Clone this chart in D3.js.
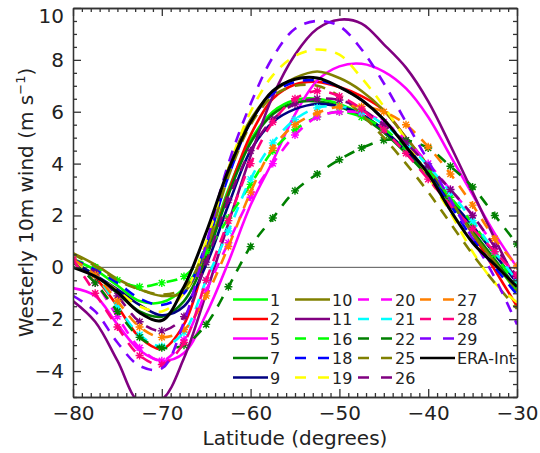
<!DOCTYPE html>
<html>
<head>
<meta charset="utf-8">
<script src="https://cdn.jsdelivr.net/npm/d3@7"></script>
<style>
  body { margin: 0; background: #fff; }
  text { font-family: "DejaVu Sans", sans-serif; fill: #222; }
</style>
</head>
<body>
<svg id="chart" width="540" height="453"></svg>
<script>
// latitude grid (degrees)
var lats = [-80, -77.5, -75, -72.5, -70, -67.5, -65, -62.5, -60, -57.5, -55,
            -52.5, -50, -47.5, -45, -42.5, -40, -37.5, -35, -32.5, -30];

// westerly 10m wind (m/s), one list per run
var run1  = [0.3, -0.1, -0.7, -1.3, -1.35, -0.8, 0.6, 3.0, 4.9, 6.0, 6.45, 6.5, 6.3, 5.9, 5.3, 4.5, 3.6, 2.5, 1.4, 0.2, -0.95];
var run2  = [0.2, -0.4, -1.5, -2.7, -3.15, -2.2, 0.35, 2.9, 5.1, 6.5, 7.05, 7.15, 6.95, 6.6, 6.05, 5.0, 3.9, 2.6, 1.3, -0.1, -1.5];
var run5  = [-0.8, -1.1, -2.2, -3.2, -3.6, -3.3, -1.8, 0.2, 2.4, 4.1, 5.9, 7.2, 7.75, 7.85, 7.55, 6.9, 5.8, 4.3, 2.8, 1.3, 0.0];
var run7  = [0.2, -0.3, -1.0, -1.7, -1.9, -1.3, 0.4, 2.8, 4.8, 5.9, 6.35, 6.4, 6.2, 5.8, 5.2, 4.4, 3.5, 2.5, 1.4, 0.3, -0.8];
var run9  = [0.2, -0.3, -0.85, -1.45, -1.85, -1.5, 0.1, 2.4, 4.5, 5.6, 6.1, 6.3, 6.2, 5.9, 5.3, 4.5, 3.7, 2.6, 1.6, 0.5, -0.6];
var run10 = [0.55, 0.1, -0.45, -0.85, -1.1, -0.95, 0.7, 3.8, 5.7, 6.75, 7.3, 7.55, 7.3, 6.8, 6.05, 5.0, 3.9, 2.6, 1.3, 0.2, -0.9];
var run11 = [-1.3, -2.1, -3.6, -5.2, -5.1, -3.5, -1.0, 1.7, 4.3, 6.6, 8.2, 9.2, 9.55, 9.4, 8.6, 7.7, 6.4, 4.7, 2.9, 1.1, -0.6];
var run16 = [0.3, 0.0, -0.5, -0.75, -0.6, -0.35, 0.6, 1.9, 3.2, 4.5, 5.3, 5.8, 6.0, 5.8, 5.35, 4.6, 3.7, 2.7, 1.7, 0.5, -0.7];
var run18 = [0.3, -0.1, -0.6, -1.2, -1.45, -1.0, 0.9, 3.5, 5.6, 6.7, 7.15, 7.2, 6.95, 6.45, 5.7, 4.7, 3.6, 2.4, 1.1, 0.0, -1.05];
var run19 = [0.2, -0.3, -0.9, -1.5, -1.7, -1.0, 1.0, 3.8, 6.0, 7.4, 8.15, 8.4, 8.2, 7.3, 6.2, 4.9, 3.5, 2.1, 0.6, -0.6, -1.35];
var run20 = [0.2, -0.6, -1.9, -3.1, -3.6, -2.8, -0.9, 0.95, 2.7, 4.0, 5.1, 5.8, 6.0, 5.95, 5.6, 4.9, 4.0, 3.0, 2.0, 0.8, -0.4];
var run21 = [0.3, -0.3, -1.5, -2.6, -3.05, -2.5, -0.5, 1.4, 3.4, 4.8, 5.7, 6.15, 6.2, 6.0, 5.5, 4.8, 3.9, 2.9, 1.8, 0.6, -0.5];
var run22 = [0.2, -0.6, -1.7, -2.7, -3.1, -3.0, -2.2, -0.75, 0.8, 1.9, 2.95, 3.6, 4.15, 4.6, 4.9, 4.9, 4.6, 3.9, 3.1, 2.0, 0.9];
var run25 = [0.5, 0.05, -0.5, -0.85, -1.05, -0.8, 0.8, 3.5, 5.5, 6.6, 7.0, 7.0, 6.6, 5.9, 5.0, 4.0, 2.9, 1.7, 0.5, -0.6, -1.6];
var run26 = [0.3, -0.2, -1.1, -2.1, -2.45, -1.9, 0.2, 2.6, 4.5, 5.7, 6.3, 6.5, 6.45, 6.1, 5.5, 4.8, 3.9, 3.0, 2.0, 0.8, -0.35];
var run27 = [0.3, -0.3, -1.3, -2.3, -2.7, -2.4, -1.1, 0.8, 2.9, 4.6, 5.5, 5.95, 6.2, 6.2, 6.0, 5.5, 4.65, 3.6, 2.4, 1.1, 0.05];
var run28 = [0.3, -1.0, -2.3, -3.4, -3.75, -2.9, -0.5, 1.8, 4.0, 5.6, 6.5, 6.8, 6.6, 6.1, 5.3, 4.4, 3.4, 2.4, 1.5, 0.6, -0.3];
var run29 = [-1.1, -1.7, -2.9, -3.8, -3.9, -2.1, 0.9, 4.0, 6.3, 8.1, 9.2, 9.5, 9.3, 8.4, 7.1, 5.6, 4.1, 2.6, 1.1, -0.4, -2.2];
var eraInt = [0.0, -0.35, -0.95, -1.75, -2.05, -0.75, 1.35, 3.75, 5.6, 6.8, 7.25, 7.3, 6.95, 6.45, 5.7, 4.65, 3.6, 2.2, 0.95, 0.1, -0.75];

var xTicks = [-80, -70, -60, -50, -40, -30];
var yTicks = [-4, -2, 0, 2, 4, 6, 8, 10];

var runs = [
  { name: "1",  values: run1,  color: "#00ff00", dash: false, mark: false },
  { name: "2",  values: run2,  color: "#ff0000", dash: false, mark: false },
  { name: "5",  values: run5,  color: "#ff00ff", dash: false, mark: false },
  { name: "7",  values: run7,  color: "#008000", dash: false, mark: false },
  { name: "9",  values: run9,  color: "#000080", dash: false, mark: false },
  { name: "10", values: run10, color: "#808000", dash: false, mark: false },
  { name: "11", values: run11, color: "#800080", dash: false, mark: false },
  { name: "16", values: run16, color: "#00ff00", dash: true,  mark: true },
  { name: "18", values: run18, color: "#0000ff", dash: true,  mark: false },
  { name: "19", values: run19, color: "#ffff00", dash: true,  mark: false },
  { name: "20", values: run20, color: "#ff00ff", dash: true,  mark: true },
  { name: "21", values: run21, color: "#00ffff", dash: true,  mark: true },
  { name: "22", values: run22, color: "#008000", dash: true,  mark: true },
  { name: "25", values: run25, color: "#808000", dash: true,  mark: false },
  { name: "26", values: run26, color: "#800080", dash: true,  mark: true },
  { name: "27", values: run27, color: "#ff8000", dash: true,  mark: true },
  { name: "28", values: run28, color: "#ff0080", dash: true,  mark: true },
  { name: "29", values: run29, color: "#8000ff", dash: true,  mark: false },
  { name: "ERA-Int", values: eraInt, color: "#000000", dash: false, mark: false }
];

var svg = d3.select("#chart"),
    pLeft = 73, pRight = 517, pTop = 8, pBottom = 397;

var x = d3.scaleLinear().domain([-80, -30]).range([pLeft, pRight]),
    y = d3.scaleLinear().domain([-5, 10]).range([pBottom, pTop]);

svg.append("rect").attr("width", 540).attr("height", 453).attr("fill", "#fff");

svg.append("clipPath").attr("id", "plotclip")
   .append("rect").attr("x", pLeft).attr("y", pTop)
   .attr("width", pRight - pLeft).attr("height", pBottom - pTop);

// zero line
svg.append("line")
   .attr("x1", x(-80)).attr("x2", x(-30))
   .attr("y1", y(0)).attr("y2", y(0))
   .attr("stroke", "#555").attr("stroke-width", 1);

var plot = svg.append("g").attr("clip-path", "url(#plotclip)");

var line = d3.line()
    .x(function (d, i) { return x(lats[i]); })
    .y(function (d) { return y(d); })
    .curve(d3.curveCatmullRom.alpha(0.5));

runs.forEach(function (r) {
  plot.append("path")
      .attr("d", line(r.values))
      .attr("fill", "none")
      .attr("stroke", r.color)
      .attr("stroke-width", r.name == "ERA-Int" ? 3 : 2.6)
      .attr("stroke-dasharray", r.dash ? "11,9" : null);

  if (r.mark) {
    plot.selectAll(null).data(r.values).enter()
        .append("path")
        .attr("transform", function (d, i) { return "translate(" + x(lats[i]) + "," + y(d) + ")"; })
        .attr("d", "M-4,0H4M0,-4V4M-3,-3L3,3M-3,3L3,-3")
        .attr("stroke", r.color)
        .attr("stroke-width", 1.4);
  }
});

// axes (ticks point inward)
var minorX = d3.range(-80, -29, 1).filter(function (v) { return v % 10 !== 0; }),
    minorY = d3.range(-5, 10.01, 0.5).filter(function (v) { return v % 2 !== 0; });

function styleAxis(g) {
  g.selectAll("path, line").attr("stroke", "#333").attr("stroke-width", 1.3);
  g.selectAll("text").attr("font-size", 20).attr("font-family", "DejaVu Sans").attr("fill", "#222");
}

svg.append("g").attr("transform", "translate(0," + pBottom + ")")
   .call(d3.axisBottom(x).tickValues(xTicks).tickSizeInner(-8).tickSizeOuter(0).tickPadding(9))
   .call(styleAxis);
svg.append("g").attr("transform", "translate(0," + pBottom + ")")
   .call(d3.axisBottom(x).tickValues(minorX).tickSizeInner(-4).tickSizeOuter(0).tickFormat(""))
   .call(styleAxis);
svg.append("g").attr("transform", "translate(0," + pTop + ")")
   .call(d3.axisTop(x).tickValues(xTicks).tickSizeInner(-8).tickSizeOuter(0).tickFormat(""))
   .call(styleAxis);
svg.append("g").attr("transform", "translate(0," + pTop + ")")
   .call(d3.axisTop(x).tickValues(minorX).tickSizeInner(-4).tickSizeOuter(0).tickFormat(""))
   .call(styleAxis);

svg.append("g").attr("transform", "translate(" + pLeft + ",0)")
   .call(d3.axisLeft(y).tickValues(yTicks).tickSizeInner(-8).tickSizeOuter(0).tickPadding(9))
   .call(styleAxis)
   .selectAll("text")
   .filter(function (d) { return d === 10; })
   .attr("dy", "0.7em");
svg.append("g").attr("transform", "translate(" + pLeft + ",0)")
   .call(d3.axisLeft(y).tickValues(minorY).tickSizeInner(-4).tickSizeOuter(0).tickFormat(""))
   .call(styleAxis);
svg.append("g").attr("transform", "translate(" + pRight + ",0)")
   .call(d3.axisRight(y).tickValues(yTicks).tickSizeInner(-8).tickSizeOuter(0).tickFormat(""))
   .call(styleAxis);
svg.append("g").attr("transform", "translate(" + pRight + ",0)")
   .call(d3.axisRight(y).tickValues(minorY).tickSizeInner(-4).tickSizeOuter(0).tickFormat(""))
   .call(styleAxis);

// axis titles
svg.append("text")
   .attr("x", (pLeft + pRight) / 2).attr("y", 445)
   .attr("text-anchor", "middle").attr("font-size", 20)
   .text("Latitude (degrees)");

var yt = svg.append("text")
   .attr("transform", "translate(33," + ((pTop + pBottom) / 2) + ") rotate(-90)")
   .attr("text-anchor", "middle").attr("font-size", 20);
yt.append("tspan").text("Westerly 10m wind (m s");
yt.append("tspan").attr("font-size", 13).attr("dy", -8).text("−1");
yt.append("tspan").attr("dy", 8).text(")");

// legend: 4 columns, 5 rows
var legCols = [233, 295, 358, 420],
    legTop = 299.5, legStep = 19.5;

runs.forEach(function (r, i) {
  var col = Math.floor(i / 5), row = i % 5,
      lx = legCols[col], ly = legTop + row * legStep;
  svg.append("line")
     .attr("x1", lx).attr("x2", lx + 35)
     .attr("y1", ly).attr("y2", ly)
     .attr("stroke", r.color).attr("stroke-width", 2.6)
     .attr("stroke-dasharray", r.dash ? "11,12" : null);
  svg.append("text")
     .attr("x", lx + 37).attr("y", ly + 6)
     .attr("font-size", 16)
     .text(r.name);
});
</script>
</body>
</html>
